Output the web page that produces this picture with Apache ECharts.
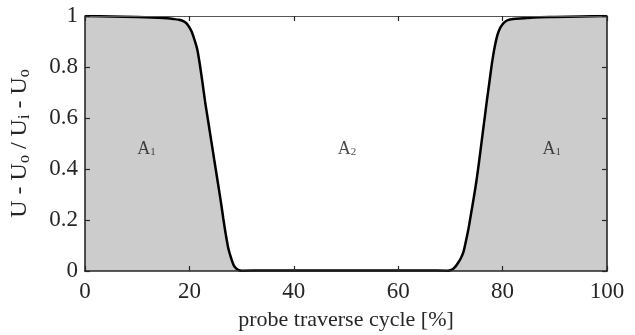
<!DOCTYPE html>
<html>
<head>
<meta charset="utf-8">
<script src="https://cdn.jsdelivr.net/npm/echarts@6/dist/echarts.min.js"></script>
<style>html,body{margin:0;padding:0;background:#fff;}#chart{width:635px;height:335px;}</style>
</head>
<body>
<div id="chart"></div>
<script>
// Data
var xValues = [0, 5, 10, 15, 17, 18, 19, 19.5, 20, 20.5, 21, 21.5, 22, 22.5, 23, 23.5, 24, 24.5, 25, 25.5, 26, 26.5, 27, 27.5, 28, 28.5, 29, 29.5, 30, 35, 40, 45, 50, 55, 60, 65, 69.5, 70, 70.5, 71, 71.5, 72, 72.5, 73, 73.5, 74, 74.5, 75, 75.5, 76, 76.5, 77, 77.5, 78, 78.5, 79, 79.5, 80, 80.5, 81, 82, 84, 86, 90, 95, 100];
var yValues = [1.0, 0.998, 0.996, 0.992, 0.988, 0.985, 0.978, 0.97, 0.955, 0.935, 0.905, 0.87, 0.81, 0.74, 0.665, 0.6, 0.535, 0.47, 0.405, 0.34, 0.275, 0.205, 0.14, 0.085, 0.05, 0.022, 0.009, 0.003, 0.001, 0.002, 0.002, 0.002, 0.002, 0.002, 0.002, 0.002, 0.001, 0.003, 0.008, 0.018, 0.033, 0.05, 0.075, 0.12, 0.17, 0.23, 0.29, 0.355, 0.43, 0.51, 0.59, 0.67, 0.745, 0.82, 0.88, 0.925, 0.952, 0.968, 0.978, 0.984, 0.988, 0.991, 0.994, 0.996, 0.998, 1.0];
var regionLabels = ['A1', 'A2', 'A1'];
var regionX = [11.8, 50.2, 89.4];
var regionY = [0.482, 0.482, 0.482];
var xTicks = [0, 20, 40, 60, 80, 100];
var yTicks = [0, 0.2, 0.4, 0.6, 0.8, 1];

var serif = '"Liberation Serif", "Times New Roman", serif';
var axisColor = '#262626';

var lineData = xValues.map(function (x, i) { return [x, yValues[i]]; });
var labelData = regionLabels.map(function (l, i) { return { value: [regionX[i], regionY[i]], name: l }; });

var chart = echarts.init(document.getElementById('chart'), null, { renderer: 'canvas' });

function xAxisCfg(pos, showLabels) {
  return {
    type: 'value', position: pos, min: 0, max: 100, interval: 20,
    axisLine: { show: true, onZero: false, lineStyle: { color: pos === 'bottom' ? axisColor : '#555555', width: pos === 'bottom' ? 1.6 : 1 } },
    axisTick: { show: true, inside: true, length: 5, lineStyle: { color: axisColor, width: 1.2 } },
    axisLabel: { show: showLabels, color: '#262626', fontFamily: serif, fontSize: 23, margin: 9,
      formatter: function (v) { return xTicks.indexOf(v) >= 0 ? String(v) : ''; } },
    splitLine: { show: false },
    name: showLabels ? 'probe traverse cycle [%]' : '',
    nameLocation: 'middle', nameGap: 38,
    nameTextStyle: { color: '#262626', fontFamily: serif, fontSize: 22 },
    z: 10
  };
}
function yAxisCfg(pos, showLabels) {
  return {
    type: 'value', position: pos, min: 0, max: 1, interval: 0.2,
    axisLine: { show: true, onZero: false, lineStyle: { color: axisColor, width: 1.6 } },
    axisTick: { show: true, inside: true, length: 5, lineStyle: { color: axisColor, width: 1.2 } },
    axisLabel: { show: showLabels, color: '#262626', fontFamily: serif, fontSize: 23, margin: 7,
      formatter: function (v) { return yTicks.indexOf(Math.round(v * 10) / 10) >= 0 ? String(Math.round(v * 10) / 10) : ''; } },
    splitLine: { show: false },
    name: showLabels ? '{m|U - U}{s|o}{m| / U}{s|i}{m| - U}{s|o}' : '',
    nameLocation: 'middle', nameGap: 52,
    nameTextStyle: {
      color: '#262626', fontFamily: serif,
      rich: {
        m: { fontFamily: serif, fontSize: 24, color: '#262626', lineHeight: 26, verticalAlign: 'middle' },
        s: { fontFamily: serif, fontSize: 16, color: '#262626', lineHeight: 26, verticalAlign: 'bottom', padding: [8, 0, 0, 0] }
      }
    },
    z: 10
  };
}

chart.setOption({
  animation: false,
  backgroundColor: '#ffffff',
  grid: { left: 85, right: 28, top: 16, bottom: 64, containLabel: false, outerBoundsMode: 'none' },
  xAxis: [xAxisCfg('bottom', true), xAxisCfg('top', false)],
  yAxis: [yAxisCfg('left', true), yAxisCfg('right', false)],
  series: [
    {
      type: 'line', xAxisIndex: 0, yAxisIndex: 0,
      data: lineData, showSymbol: false, smooth: 0.3,
      lineStyle: { color: '#000000', width: 2.5 },
      areaStyle: { color: '#cccccc', opacity: 1 },
      z: 3
    },
    {
      type: 'scatter', xAxisIndex: 0, yAxisIndex: 0,
      data: labelData, symbolSize: 1, itemStyle: { color: 'rgba(0,0,0,0)' },
      label: {
        show: true, position: 'inside',
        formatter: function (p) { return '{a|' + p.name.charAt(0) + '}{s|' + p.name.charAt(1) + '}'; },
        rich: {
          a: { fontFamily: serif, fontSize: 18, color: '#1a1a1a', lineHeight: 20, verticalAlign: 'bottom' },
          s: { fontFamily: serif, fontSize: 11, color: '#1a1a1a', lineHeight: 20, verticalAlign: 'bottom' }
        }
      },
      z: 5
    }
  ]
});
</script>
</body>
</html>
